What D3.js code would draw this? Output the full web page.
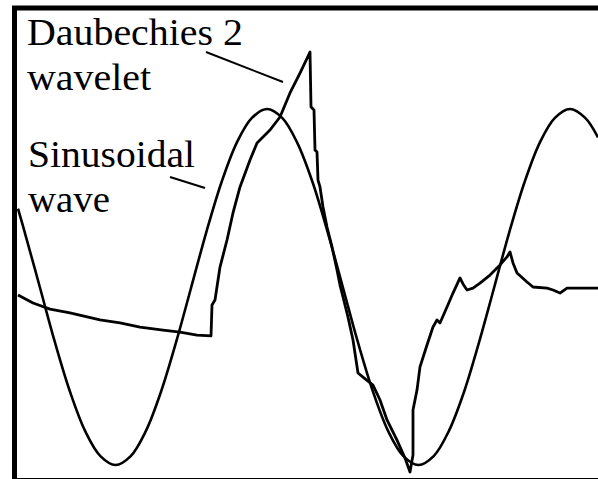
<!DOCTYPE html>
<html>
<head>
<meta charset="utf-8">
<script src="https://cdn.jsdelivr.net/npm/d3@7"></script>
<style>
  html, body { margin: 0; padding: 0; background: #fff; }
  svg { display: block; }
</style>
</head>
<body>
<svg id="chart" width="598" height="479"></svg>
<script>
// Sinusoidal reference wave: sample position and amplitude
const sineT = [0, 6.6, 21.8, 36.9, 52.1, 67.2, 82.4, 97.5, 112.7, 127.8, 142.9, 158.1, 173.3, 188.4,
  203.6, 218.7, 233.9, 249, 264.2, 279.3, 294.5, 309.6, 324.8, 339.9, 355.1, 370.2, 385.4, 400.5,
  415.7, 430.8, 446, 461.1, 476.3, 491.4, 506.6, 521.7, 536.9, 552, 567.2, 580];
const sineV = [0.44, 0.31, 0, -0.31, -0.59, -0.81, -0.95, -1, -0.95, -0.81, -0.59, -0.31, 0, 0.31,
  0.59, 0.81, 0.95, 1, 0.95, 0.81, 0.59, 0.31, 0, -0.31, -0.59, -0.81, -0.95, -1,
  -0.95, -0.81, -0.59, -0.31, 0, 0.31, 0.59, 0.81, 0.95, 1, 0.95, 0.84];

// Daubechies 2 wavelet trace: sample position and amplitude
const waveT = [0, 15, 32, 52, 82, 102, 122, 145, 162, 179, 193, 194, 197, 202, 209, 215, 222, 232,
  239, 252, 262, 272, 282, 292, 293, 296, 297, 299, 300, 302, 305, 309, 314, 319, 322, 325, 330,
  335, 340, 345, 355, 362, 369, 379, 387, 392, 395, 395, 399, 402, 409, 415, 419, 422, 429, 435,
  442, 445, 449, 455, 462, 472, 482, 489, 492, 495, 499, 509, 515, 529, 535, 542, 549, 580];
const waveV = [-0.045, -0.090, -0.124, -0.146, -0.185, -0.202, -0.225, -0.242, -0.253, -0.270,
  -0.275, -0.101, -0.073, 0.112, 0.264, 0.416, 0.562, 0.713, 0.809, 0.882, 0.955, 1.090, 1.202,
  1.320, 1.011, 0.994, 0.770, 0.758, 0.601, 0.562, 0.449, 0.337, 0.225, 0.096, 0.011, -0.056,
  -0.169, -0.298, -0.483, -0.506, -0.551, -0.635, -0.747, -0.860, -0.961, -1.039, -0.944, -0.691,
  -0.579, -0.449, -0.326, -0.225, -0.185, -0.202, -0.112, -0.034, 0.051, 0.017, -0.017, -0.006,
  0.022, 0.067, 0.124, 0.169, 0.197, 0.135, 0.079, 0.028, 0, -0.006, -0.017, -0.034, -0.006, -0.006];

// Annotation text lines
const waveletLabel = ["Daubechies 2", "wavelet"];
const sineLabel = ["Sinusoidal", "wave"];

const svg = d3.select("#chart");
const W = 598, H = 479;

svg.append("rect").attr("width", W).attr("height", H).attr("fill", "#fff");

const x = d3.scaleLinear().domain([0, 580]).range([18, 598]);
const y = d3.scaleLinear().domain([-1, 1]).range([465, 109]);

// clip the traces to the inside of the frame
svg.append("clipPath").attr("id", "plot-clip")
  .append("rect").attr("x", 17).attr("y", 11).attr("width", W - 17).attr("height", H - 11);

const plot = svg.append("g").attr("clip-path", "url(#plot-clip)");

const sineData = sineT.map((t, i) => [t, sineV[i]]);
const waveData = waveT.map((t, i) => [t, waveV[i]]);

const sineLine = d3.line().x(d => x(d[0])).y(d => y(d[1])).curve(d3.curveCatmullRom.alpha(0.5));
const waveLine = d3.line().x(d => x(d[0])).y(d => y(d[1])).curve(d3.curveLinear);

plot.append("path").datum(sineData)
  .attr("d", sineLine)
  .attr("fill", "none").attr("stroke", "#000").attr("stroke-width", 2.6);

plot.append("path").datum(waveData)
  .attr("d", waveLine)
  .attr("fill", "none").attr("stroke", "#000").attr("stroke-width", 2.8)
  .attr("stroke-linejoin", "round");

// frame (right edge runs past the page)
svg.append("rect")
  .attr("x", 14.5).attr("y", 8).attr("width", W + 20).attr("height", 472.5)
  .attr("fill", "none").attr("stroke", "#000").attr("stroke-width", 5);

// labels, stretched to the widths of the printed lettering
const labels = svg.append("g")
  .attr("font-family", "'Liberation Serif', 'Times New Roman', serif")
  .attr("font-size", 38).attr("fill", "#000");

const waveletWidths = [216, 124];
const sineWidths = [167, 82];

labels.selectAll("text.wl").data(waveletLabel).join("text")
  .attr("class", "wl")
  .attr("x", 27).attr("y", (d, i) => 45 + i * 45)
  .attr("textLength", (d, i) => waveletWidths[i])
  .attr("lengthAdjust", "spacingAndGlyphs")
  .text(d => d);

labels.selectAll("text.sl").data(sineLabel).join("text")
  .attr("class", "sl")
  .attr("x", 28).attr("y", (d, i) => 167 + i * 45)
  .attr("textLength", (d, i) => sineWidths[i])
  .attr("lengthAdjust", "spacingAndGlyphs")
  .text(d => d);

// leader lines
svg.append("line").attr("x1", 206).attr("y1", 52).attr("x2", 283).attr("y2", 82)
  .attr("stroke", "#000").attr("stroke-width", 2);
svg.append("line").attr("x1", 170).attr("y1", 177).attr("x2", 205).attr("y2", 188)
  .attr("stroke", "#000").attr("stroke-width", 2);
</script>
</body>
</html>
